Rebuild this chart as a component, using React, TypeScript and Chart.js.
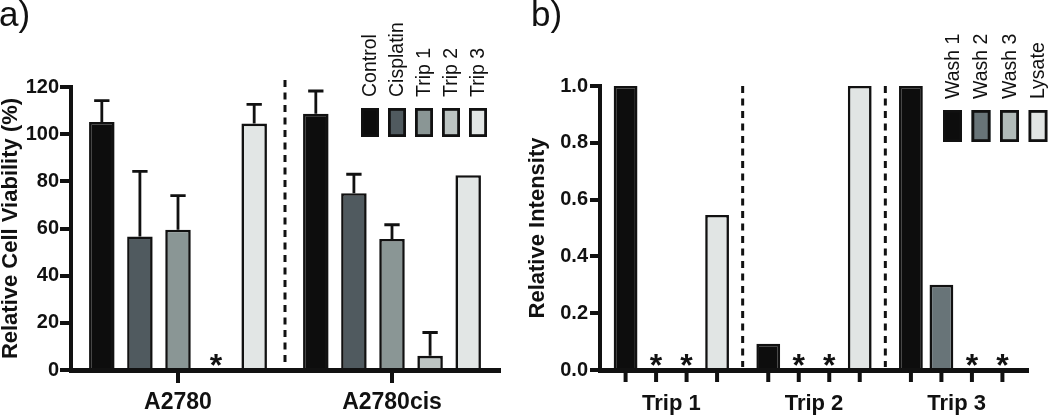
import React, { useEffect, useRef } from "react";
import { Chart, registerables } from "chart.js";

Chart.register(...registerables);

// ---------- Panel a data ----------
const cellLines = ["A2780", "A2780cis"];
const treatments = ["Control", "Cisplatin", "Trip 1", "Trip 2", "Trip 3"];
const controlViability = [105.2, 108.7];
const cisplatinViability = [56.6, 75.0];
const trip1Viability = [59.5, 55.6];
const trip2Viability = [0, 6.0];
const trip3Viability = [104.5, 82.6];
const controlError = [9.0, 9.6];
const cisplatinError = [27.6, 8.0];
const trip1Error = [14.4, 6.0];
const trip2Error = [0, 9.9];
const trip3Error = [8.1, 0];
const viabilityMin = 0;
const viabilityMax = 120;
const viabilityStep = 20;
const treatmentColors = ["#0d0d0d", "#505a5f", "#8a9695", "#bcc4c2", "#e2e6e5"];

// ---------- Panel b data ----------
const trips = ["Trip 1", "Trip 2", "Trip 3"];
const fractions = ["Wash 1", "Wash 2", "Wash 3", "Lysate"];
const wash1Intensity = [1.0, 0.092, 1.0];
const wash2Intensity = [0, 0, 0.3];
const wash3Intensity = [0, 0, 0];
const lysateIntensity = [0.546, 1.0, 0];
const intensityMin = 0;
const intensityMax = 1;
const intensityStep = 0.2;
const fractionColors = ["#0d0d0d", "#687478", "#b1bbb9", "#e1e5e4"];

const FONT = "'Liberation Sans', Arial, Helvetica, sans-serif";

type OverlayCfg = {
  panelLabel: string;
  panelLabelX: number;
  errors?: number[][];
  barTicks?: number;
  dashTop: number;
  legendX: number;
  legendStep: number;
  legendW: number;
  legendY: number;
  legendH: number;
  legendTextY: number;
  legendFont: number;
  legendLabels: string[];
  legendColors: string[];
};

function makeOverlay(cfg: OverlayCfg) {
  return {
    id: "overlay",
    afterDatasetsDraw(chart: any) {
      const ctx: CanvasRenderingContext2D = chart.ctx;
      const area = chart.chartArea;
      const xs = chart.scales.x;
      const ys = chart.scales.y;
      ctx.save();

      // error bars, asterisks, per-bar ticks
      chart.data.datasets.forEach((ds: any, i: number) => {
        const meta = chart.getDatasetMeta(i);
        const errs = cfg.errors ? cfg.errors[i] : null;
        meta.data.forEach((el: any, j: number) => {
          const v = ds.data[j] as number;
          if (errs && errs[j] > 0) {
            const yTop = ys.getPixelForValue(v + errs[j]);
            const cap = el.width * 0.6;
            ctx.strokeStyle = "#111";
            ctx.lineWidth = 2.8;
            ctx.lineCap = "butt";
            ctx.beginPath();
            ctx.moveTo(el.x, el.y);
            ctx.lineTo(el.x, yTop);
            ctx.moveTo(el.x - cap / 2, yTop);
            ctx.lineTo(el.x + cap / 2, yTop);
            ctx.stroke();
          }
          if (v === 0) {
            ctx.fillStyle = "#111";
            ctx.font = `bold 32px ${FONT}`;
            ctx.textAlign = "center";
            ctx.textBaseline = "alphabetic";
            const m = ctx.measureText("*");
            const asc = m.actualBoundingBoxAscent;
            const desc = m.actualBoundingBoxDescent;
            const cy = area.bottom - 10;
            ctx.fillText("*", el.x, cy + (asc - desc) / 2);
          }
          if (cfg.barTicks) {
            ctx.strokeStyle = "#111";
            ctx.lineWidth = 4;
            ctx.beginPath();
            ctx.moveTo(el.x, area.bottom);
            ctx.lineTo(el.x, area.bottom + cfg.barTicks);
            ctx.stroke();
          }
        });
      });

      // dashed separators between groups
      const n = chart.data.labels.length;
      ctx.strokeStyle = "#111";
      ctx.lineWidth = 3;
      ctx.setLineDash([7, 5.5]);
      for (let k = 0; k < n - 1; k++) {
        const x = (xs.getPixelForTick(k) + xs.getPixelForTick(k + 1)) / 2;
        ctx.beginPath();
        ctx.moveTo(x, cfg.dashTop);
        ctx.lineTo(x, area.bottom - 3);
        ctx.stroke();
      }
      ctx.setLineDash([]);

      // legend
      cfg.legendLabels.forEach((lab, i) => {
        const x = cfg.legendX + i * cfg.legendStep;
        ctx.fillStyle = cfg.legendColors[i];
        ctx.fillRect(x, cfg.legendY, cfg.legendW, cfg.legendH);
        ctx.strokeStyle = "#111";
        ctx.lineWidth = 2.8;
        ctx.strokeRect(x + 1.4, cfg.legendY + 1.4, cfg.legendW - 2.8, cfg.legendH - 2.8);
        ctx.save();
        ctx.translate(x + cfg.legendW / 2 + 1, cfg.legendTextY);
        ctx.rotate(-Math.PI / 2);
        ctx.fillStyle = "#111";
        ctx.font = `${cfg.legendFont}px ${FONT}`;
        ctx.textAlign = "left";
        ctx.textBaseline = "middle";
        ctx.fillText(lab, 0, 0);
        ctx.restore();
      });

      // panel label
      ctx.fillStyle = "#111";
      ctx.font = `35px ${FONT}`;
      ctx.textAlign = "left";
      ctx.textBaseline = "alphabetic";
      ctx.fillText(cfg.panelLabel, cfg.panelLabelX, 26);

      ctx.restore();
    },
  };
}

function makeBarDataset(label: string, data: number[], color: string) {
  return {
    label,
    data,
    backgroundColor: color,
    borderColor: "#111",
    borderWidth: 2.6,
    borderSkipped: "start" as const,
  };
}

function PanelA() {
  const ref = useRef<HTMLCanvasElement>(null);
  useEffect(() => {
    const series = [controlViability, cisplatinViability, trip1Viability, trip2Viability, trip3Viability];
    const errors = [controlError, cisplatinError, trip1Error, trip2Error, trip3Error];
    const chart = new Chart(ref.current!, {
      type: "bar",
      data: {
        labels: cellLines,
        datasets: treatments.map((t, i) => ({
          ...makeBarDataset(t, series[i], treatmentColors[i]),
          categoryPercentage: 0.89,
          barPercentage: 0.67,
        })),
      },
      options: {
        animation: false,
        responsive: false,
        devicePixelRatio: 1,
        layout: { padding: { left: 0, right: 21, top: 87, bottom: 0 } },
        plugins: { legend: { display: false }, tooltip: { enabled: false } },
        scales: {
          x: {
            grid: {
              display: true,
              drawOnChartArea: false,
              drawTicks: true,
              offset: false,
              tickLength: 13,
              lineWidth: 4,
              color: "#111",
            },
            border: { display: true, width: 5, color: "#111" },
            ticks: { font: { family: FONT, size: 23, weight: "bold" }, color: "#111", padding: 6 },
            afterFit: (s: any) => {
              s.height = 45;
            },
          },
          y: {
            min: viabilityMin,
            max: viabilityMax,
            ticks: {
              stepSize: viabilityStep,
              font: { family: FONT, size: 20, weight: "bold" },
              color: "#111",
              padding: 1,
            },
            grid: {
              display: true,
              drawOnChartArea: false,
              drawTicks: true,
              tickLength: 11,
              lineWidth: 4,
              color: "#111",
            },
            border: { display: true, width: 4, color: "#111" },
            title: {
              display: true,
              text: "Relative Cell Viability (%)",
              font: { family: FONT, size: 22, weight: "bold" },
              color: "#111",
              padding: { top: -2, bottom: 0 },
            },
            afterFit: (s: any) => {
              s.width = 71;
            },
          },
        },
      },
      plugins: [
        makeOverlay({
          panelLabel: "a)",
          panelLabelX: -1,
          errors,
          dashTop: 80,
          legendX: 361,
          legendStep: 27,
          legendW: 18,
          legendY: 108,
          legendH: 29,
          legendTextY: 97,
          legendFont: 19.5,
          legendLabels: treatments,
          legendColors: treatmentColors,
        }),
      ],
    } as any);
    return () => chart.destroy();
  }, []);
  return (
    <canvas
      ref={ref}
      width={520}
      height={415}
      style={{ position: "absolute", left: 0, top: 0, width: 520, height: 415, display: "block" }}
    />
  );
}

function PanelB() {
  const ref = useRef<HTMLCanvasElement>(null);
  useEffect(() => {
    const series = [wash1Intensity, wash2Intensity, wash3Intensity, lysateIntensity];
    const chart = new Chart(ref.current!, {
      type: "bar",
      data: {
        labels: trips,
        datasets: fractions.map((f, i) => ({
          ...makeBarDataset(f, series[i], fractionColors[i]),
          categoryPercentage: 0.855,
          barPercentage: 0.78,
        })),
      },
      options: {
        animation: false,
        responsive: false,
        devicePixelRatio: 1,
        layout: { padding: { left: 0, right: 22, top: 86, bottom: 0 } },
        plugins: { legend: { display: false }, tooltip: { enabled: false } },
        scales: {
          x: {
            grid: { display: false, drawTicks: true, tickLength: 12 },
            border: { display: true, width: 5, color: "#111" },
            ticks: { font: { family: FONT, size: 22, weight: "bold" }, color: "#111", padding: 9 },
            afterFit: (s: any) => {
              s.height = 45;
            },
          },
          y: {
            min: intensityMin,
            max: intensityMax,
            ticks: {
              stepSize: intensityStep,
              font: { family: FONT, size: 20, weight: "bold" },
              color: "#111",
              padding: 2,
              callback: (v: any) => Number(v).toFixed(1),
            },
            grid: {
              display: true,
              drawOnChartArea: false,
              drawTicks: true,
              tickLength: 10,
              lineWidth: 4,
              color: "#111",
            },
            border: { display: true, width: 4, color: "#111" },
            title: {
              display: true,
              text: "Relative Intensity",
              font: { family: FONT, size: 22, weight: "bold" },
              color: "#111",
              padding: { top: 5, bottom: 0 },
            },
            afterFit: (s: any) => {
              s.width = 80;
            },
          },
        },
      },
      plugins: [
        makeOverlay({
          panelLabel: "b)",
          panelLabelX: 11,
          barTicks: 12,
          dashTop: 86,
          legendX: 423,
          legendStep: 28.5,
          legendW: 19,
          legendY: 110,
          legendH: 32,
          legendTextY: 99,
          legendFont: 19.5,
          legendLabels: fractions,
          legendColors: fractionColors,
        }),
      ],
    } as any);
    return () => chart.destroy();
  }, []);
  return (
    <canvas
      ref={ref}
      width={530}
      height={415}
      style={{ position: "absolute", left: 520, top: 0, width: 530, height: 415, display: "block" }}
    />
  );
}

export default function App() {
  return (
    <div
      style={{
        position: "absolute",
        left: 0,
        top: 0,
        width: 1050,
        height: 415,
        background: "#fff",
        overflow: "hidden",
      }}
    >
      <PanelA />
      <PanelB />
    </div>
  );
}
